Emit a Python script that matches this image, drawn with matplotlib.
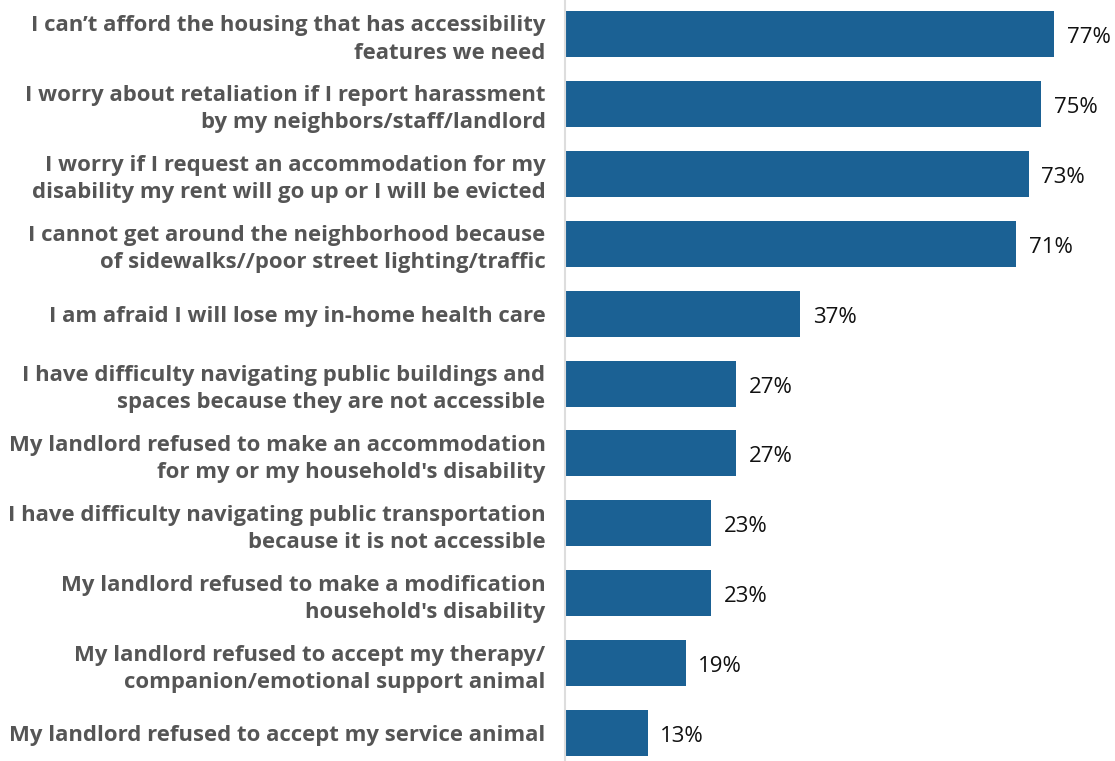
import matplotlib.pyplot as plt

labels = [
    "I can\u2019t afford the housing that has accessibility\nfeatures we need",
    "I worry about retaliation if I report harassment\nby my neighbors/staff/landlord",
    "I worry if I request an accommodation for my\ndisability my rent will go up or I will be evicted",
    "I cannot get around the neighborhood because\nof sidewalks//poor street lighting/traffic",
    "I am afraid I will lose my in-home health care",
    "I have difficulty navigating public buildings and\nspaces because they are not accessible",
    "My landlord refused to make an accommodation\nfor my or my household's disability",
    "I have difficulty navigating public transportation\nbecause it is not accessible",
    "My landlord refused to make a modification\nhousehold's disability",
    "My landlord refused to accept my therapy/\ncompanion/emotional support animal",
    "My landlord refused to accept my service animal",
]
values = [77, 75, 73, 71, 37, 27, 27, 23, 23, 19, 13]

plt.rcParams['font.family'] = ['Open Sans', 'DejaVu Sans']

fig = plt.figure(figsize=(11.15, 7.61), dpi=100)
ax = fig.add_axes([565 / 1115, 0, 550 / 1115, 1])

pos = list(range(len(values)))
ax.barh(pos, values, height=0.658, color='#1b6194')
ax.set_xlim(0, 86.6)
ax.set_ylim(10.40, -0.486)

for y, v in zip(pos, values):
    ax.text(v + 2.0, y + 0.05, f"{v}%", va='center', ha='left',
            fontsize=16, color='#111111')

ax.set_yticks(pos)
ax.set_yticklabels(labels, fontsize=15.9, fontweight='bold',
                   color='#555555', linespacing=1.38)
ax.tick_params(axis='y', length=0, pad=14)
ax.set_xticks([])

for s in ['top', 'right', 'bottom']:
    ax.spines[s].set_visible(False)
ax.spines['left'].set_color('#dddddd')
ax.spines['left'].set_linewidth(1.5)

fig.savefig('out.png', dpi=100)
